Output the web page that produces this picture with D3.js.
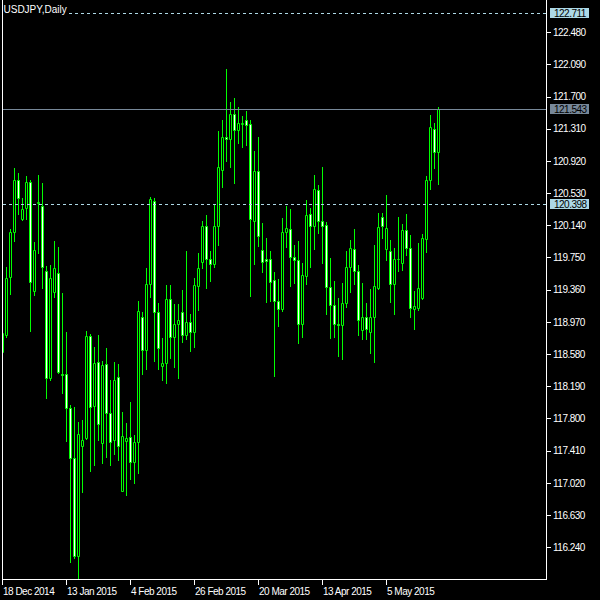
<!DOCTYPE html>
<html><head><meta charset="utf-8">
<script src="https://cdn.jsdelivr.net/npm/d3@7"></script>
<style>
html,body{margin:0;padding:0;background:#000;}
svg{display:block;}
text{font-family:"Liberation Sans",Arial,sans-serif;}
</style></head><body>
<svg id="chart" width="600" height="600"></svg>
<script>
const symbolTitle = "USDJPY,Daily";
const dates = [
"2014-12-18","2014-12-19","2014-12-22","2014-12-23","2014-12-24","2014-12-26","2014-12-29","2014-12-30","2014-12-31",
"2015-01-02","2015-01-05","2015-01-06","2015-01-07","2015-01-08","2015-01-09","2015-01-12","2015-01-13","2015-01-14","2015-01-15","2015-01-16","2015-01-19","2015-01-20","2015-01-21","2015-01-22","2015-01-23","2015-01-26","2015-01-27","2015-01-28","2015-01-29","2015-01-30",
"2015-02-02","2015-02-03","2015-02-04","2015-02-05","2015-02-06","2015-02-09","2015-02-10","2015-02-11","2015-02-12","2015-02-13","2015-02-16","2015-02-17","2015-02-18","2015-02-19","2015-02-20","2015-02-23","2015-02-24","2015-02-25","2015-02-26","2015-02-27",
"2015-03-02","2015-03-03","2015-03-04","2015-03-05","2015-03-06","2015-03-09","2015-03-10","2015-03-11","2015-03-12","2015-03-13","2015-03-16","2015-03-17","2015-03-18","2015-03-19","2015-03-20","2015-03-23","2015-03-24","2015-03-25","2015-03-26","2015-03-27","2015-03-30","2015-03-31",
"2015-04-01","2015-04-02","2015-04-03","2015-04-06","2015-04-07","2015-04-08","2015-04-09","2015-04-10","2015-04-13","2015-04-14","2015-04-15","2015-04-16","2015-04-17","2015-04-20","2015-04-21","2015-04-22","2015-04-23","2015-04-24","2015-04-27","2015-04-28","2015-04-29","2015-04-30",
"2015-05-01","2015-05-04","2015-05-05","2015-05-06","2015-05-07","2015-05-08","2015-05-11","2015-05-12","2015-05-13","2015-05-14","2015-05-15","2015-05-18","2015-05-19","2015-05-20","2015-05-21","2015-05-22"];

const open = [118.605,118.811,119.517,120.055,120.685,120.220,120.346,120.661,119.348,120.410,
120.370,119.590,118.287,119.329,119.559,118.333,118.339,117.924,117.318,116.135,
117.471,117.568,118.799,117.955,118.481,117.500,118.456,117.863,117.536,118.299,
116.926,117.524,117.572,117.270,117.512,119.026,118.630,119.425,120.438,119.093,
118.440,118.469,119.244,118.783,118.941,119.093,118.808,118.965,118.851,119.408,
119.699,120.128,119.728,119.668,120.128,120.806,121.206,121.189,121.484,121.291,
121.369,121.412,121.363,120.196,120.798,119.837,119.728,119.728,119.474,119.219,
119.130,120.055,120.091,119.752,119.716,118.941,119.522,120.273,120.128,120.564,
120.188,120.140,119.389,119.171,118.948,118.929,119.195,119.631,119.857,119.583,
118.872,119.029,118.851,119.026,119.377,120.237,119.857,119.825,119.425,119.726,
119.680,120.083,119.861,119.130,119.135,119.256,119.970,120.685,121.310,121.031];

const high = [118.932,119.631,120.095,120.830,120.770,120.467,120.737,120.689,119.934,120.749,
120.652,119.647,119.656,119.950,119.877,119.316,118.844,117.964,117.939,117.754,
117.782,118.860,118.823,118.666,118.811,118.496,118.650,118.266,118.484,118.456,
117.879,117.742,118.000,117.600,119.223,119.093,119.623,120.479,120.467,119.195,
118.771,119.417,119.417,119.187,119.187,119.356,119.829,119.066,119.502,119.805,
120.196,120.265,119.829,120.398,121.282,121.415,122.033,121.633,121.682,121.573,
121.464,121.524,121.412,121.040,121.209,120.168,119.986,119.829,119.574,119.486,
120.225,120.374,120.334,119.901,119.950,119.680,120.446,120.346,120.749,120.628,
120.846,120.176,119.744,119.462,119.256,119.438,119.829,119.966,120.092,119.659,
119.438,119.195,119.369,119.901,120.289,120.285,120.503,119.962,119.861,120.240,
120.156,120.277,120.022,119.344,119.922,120.031,120.734,121.476,121.376,121.569];

const low = [118.557,118.791,119.308,119.954,120.277,120.204,120.220,118.860,119.296,119.808,
119.377,118.052,118.266,119.275,118.357,118.105,117.531,116.066,116.107,115.850,
116.913,117.552,117.168,117.237,117.540,117.257,117.330,117.237,117.374,117.294,
116.916,116.873,117.064,117.015,117.143,118.335,118.396,119.275,118.500,118.403,
118.266,118.234,118.536,118.427,118.294,118.730,118.767,118.621,118.670,119.114,
119.626,119.384,119.465,119.631,119.901,120.607,120.922,120.850,120.656,121.133,
121.092,121.113,119.284,119.671,119.893,119.578,119.215,119.227,118.318,118.924,
119.106,119.881,119.408,119.445,118.718,118.791,119.429,119.639,119.857,120.050,
119.687,119.069,118.779,118.791,118.557,118.524,119.154,119.336,119.426,118.811,
118.763,118.763,118.597,118.488,119.365,119.986,119.720,119.215,119.062,119.590,
119.599,119.780,119.033,118.884,119.114,119.244,119.820,120.576,120.838,120.637];

const close = [118.836,119.505,120.055,120.685,120.467,120.334,120.661,119.457,119.841,120.426,
119.631,118.287,119.498,119.619,118.367,118.321,117.924,117.318,116.135,117.609,
117.536,118.799,117.943,118.472,117.730,118.448,117.863,117.519,118.266,117.463,
117.584,117.560,117.270,117.512,119.098,118.626,119.425,120.455,119.093,118.650,
118.469,119.244,118.783,118.941,118.989,118.808,118.965,118.851,119.417,119.619,
120.128,119.728,119.668,120.128,120.842,121.206,121.182,121.484,121.291,121.375,
121.379,121.351,120.213,120.798,120.014,119.692,119.704,119.457,119.219,119.130,
120.055,120.111,119.752,119.716,118.941,119.534,120.261,120.128,120.576,120.188,
120.128,119.389,119.171,118.941,118.929,119.195,119.631,119.861,119.587,118.989,
119.033,118.884,119.026,119.405,120.119,120.135,120.107,119.433,119.728,119.732,
120.083,119.861,119.135,119.159,119.377,119.983,120.685,121.327,121.024,121.543];

const priceTicks = [122.480,122.090,121.700,121.310,120.920,120.530,120.140,119.750,119.360,118.970,118.580,118.190,117.800,117.410,117.020,116.630,116.240];
const dateTickDates = ["2014-12-18","2015-01-13","2015-02-04","2015-02-26","2015-03-20","2015-04-13","2015-05-05"];
const dateTickLabels = ["18 Dec 2014","13 Jan 2015","4 Feb 2015","26 Feb 2015","20 Mar 2015","13 Apr 2015","5 May 2015"];
const levelLines = [122.711, 120.398];
const bidPrice = 121.543;

const svg = d3.select("#chart");
svg.append("rect").attr("width",600).attr("height",600).attr("fill","#000");

const x = d3.scalePoint().domain(dates).range([2.5, 2.5 + 4*(dates.length-1)]);
const y = d3.scaleLinear().domain([116.24, 122.48]).range([547.3, 32.1]);
const snap = v => Math.round(v) + 0.5;
const fmt = d3.format(".3f");

svg.append("defs").append("clipPath").attr("id","plot")
  .append("rect").attr("x",3).attr("y",0).attr("width",543).attr("height",579);

const plot = svg.append("g").attr("clip-path","url(#plot)");
const candles = dates.map((d,i)=>({d, o:open[i], h:high[i], l:low[i], c:close[i]}));
const GREEN = "#00ff00";

plot.selectAll("line.wick").data(candles).join("line").attr("class","wick")
  .attr("x1", d=>x(d.d)).attr("x2", d=>x(d.d))
  .attr("y1", d=>Math.round(y(d.h))).attr("y2", d=>Math.round(y(d.l))+1)
  .attr("stroke", GREEN).attr("stroke-width",1);

plot.selectAll("path.body").data(candles).join("path").attr("class","body")
  .attr("d", d=>{
    const t = Math.round(y(Math.max(d.o,d.c)));
    const b = Math.round(y(Math.min(d.o,d.c)));
    const cx = x(d.d);
    return `M${cx-1},${t+0.5}h2v${b-t}h-2Z`;
  })
  .attr("fill", d=> d.c >= d.o ? "#000" : "#fff")
  .attr("stroke", GREEN).attr("stroke-width",1);

// horizontal level lines
const LB = "#add8e6", SG = "#778899";
plot.selectAll("line.level").data(levelLines).join("line").attr("class","level")
  .attr("x1",3).attr("x2",546).attr("y1",d=>snap(y(d))).attr("y2",d=>snap(y(d)))
  .attr("stroke",LB).attr("stroke-dasharray","3,3");
plot.append("line").attr("x1",3).attr("x2",546)
  .attr("y1",snap(y(bidPrice))).attr("y2",snap(y(bidPrice)))
  .attr("stroke",SG);

// frame
svg.append("line").attr("x1",2.5).attr("x2",2.5).attr("y1",0).attr("y2",580).attr("stroke","#fff");
svg.append("line").attr("x1",546.5).attr("x2",546.5).attr("y1",0).attr("y2",580).attr("stroke","#fff");
svg.append("line").attr("x1",2).attr("x2",547).attr("y1",579.5).attr("y2",579.5).attr("stroke","#fff");

// right price axis
const ra = svg.append("g");
ra.selectAll("line").data(priceTicks).join("line")
  .attr("x1",547).attr("x2",551).attr("y1",d=>snap(y(d))).attr("y2",d=>snap(y(d))).attr("stroke","#fff");
ra.selectAll("text").data(priceTicks).join("text")
  .attr("x",553).attr("y",d=>y(d)).attr("dy","0.36em")
  .attr("fill","#fff").attr("font-size","10px").attr("letter-spacing","-0.5px")
  .text(fmt);

// highlighted price labels
const marks = levelLines.map(v=>({v,col:LB})).concat([{v:bidPrice,col:SG}]);
const mg = svg.append("g");
mg.selectAll("rect").data(marks).join("rect")
  .attr("x",550).attr("y",d=>Math.round(y(d.v))-5.5+0.5).attr("width",39).attr("height",10)
  .attr("fill",d=>d.col);
mg.selectAll("text").data(marks).join("text")
  .attr("x",554).attr("y",d=>y(d.v)).attr("dy","0.36em")
  .attr("fill","#000").attr("font-size","10px").attr("letter-spacing","-0.5px")
  .text(d=>fmt(d.v));

// bottom date axis
const ba = svg.append("g");
const dTicks = dateTickDates.map((d,i)=>({d, label:dateTickLabels[i]}));
ba.selectAll("line").data(dTicks).join("line")
  .attr("x1",d=>x(d.d)).attr("x2",d=>x(d.d)).attr("y1",580).attr("y2",585).attr("stroke","#fff");
ba.selectAll("text").data(dTicks).join("text")
  .attr("x",d=>x(d.d)+0.5).attr("y",594.5)
  .attr("fill","#fff").attr("font-size","10px").attr("letter-spacing","-0.5px")
  .text(d=>d.label);

// title
svg.append("rect").attr("x",3).attr("y",3).attr("width",66).attr("height",14).attr("fill","#000");
svg.append("text").attr("x",3.5).attr("y",13).attr("fill","#fff").attr("font-size","10px")
  .text(symbolTitle);
</script>
</body></html>
